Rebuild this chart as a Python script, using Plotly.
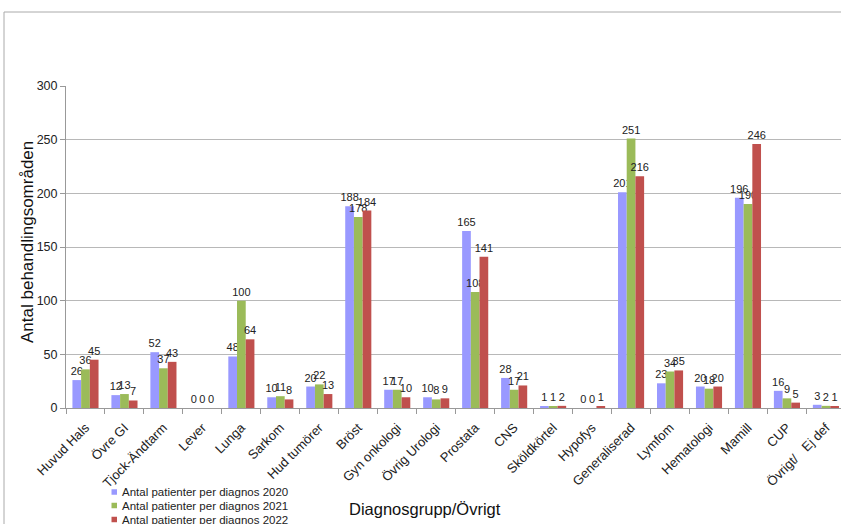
import plotly.graph_objects as go

categories = ["Huvud Hals", "Övre GI", "Tjock-Ändtarm", "Lever", "Lunga", "Sarkom",
              "Hud tumörer", "Bröst", "Gyn onkologi", "Övrig Urologi", "Prostata", "CNS",
              "Sköldkörtel", "Hypofys", "Generaliserad", "Lymfom", "Hematologi", "Mamill",
              "CUP", "Övrigt/   Ej def"]
v2020 = [26, 12, 52, 0, 48, 10, 20, 188, 17, 10, 165, 28, 1, 0, 201, 23, 20, 196, 16, 3]
v2021 = [36, 13, 37, 0, 100, 11, 22, 178, 17, 8, 108, 17, 1, 0, 251, 34, 18, 190, 9, 2]
v2022 = [45, 7, 43, 0, 64, 8, 13, 184, 10, 9, 141, 21, 2, 1, 216, 35, 20, 246, 5, 1]
series_names = ["Antal patienter per diagnos 2020", "Antal patienter per diagnos 2021",
                "Antal patienter per diagnos 2022"]
colors = ["#9999FF", "#9BBB59", "#C0504D"]
y_ticks = [0, 50, 100, 150, 200, 250, 300]
x_title = "Diagnosgrupp/Övrigt"
y_title = "Antal behandlingsområden"

font = "Liberation Sans, Arial, sans-serif"
fig = go.Figure()
for name, vals, col in zip(series_names, [v2020, v2021, v2022], colors):
    fig.add_trace(go.Bar(
        x=categories, y=vals, name=name,
        marker=dict(color=col, line=dict(width=0)),
        text=[str(v) for v in vals], textposition="outside",
        constraintext="none", cliponaxis=False,
        textfont=dict(family=font, size=11, color="#222222"),
    ))

W, H = 841, 524
L, R, T, B = 66, 0, 86, 116
pw, ph = W - L - R, H - T - B
y0px = T + ph  # pixel row of the x axis


def px(xp):
    return (xp - L) / pw


def py(yp):
    return (y0px - yp) / ph


shapes = [dict(type="rect", xref="paper", yref="paper",
               x0=px(4), x1=1.05, y0=-0.6, y1=py(12),
               line=dict(color="#AAAAAA", width=1), layer="below")]
annotations = [
    dict(text=x_title, xref="paper", yref="paper", x=px(425), y=py(509),
         xanchor="center", yanchor="middle", showarrow=False,
         font=dict(family=font, size=16.5, color="#111111")),
    dict(text=y_title, xref="paper", yref="paper", x=px(27), y=py(242),
         xanchor="center", yanchor="middle", showarrow=False, textangle=-90,
         font=dict(family=font, size=17, color="#111111")),
]
rows = [492, 505.5, 519.5]
for name, col, ry in zip(series_names, colors, rows):
    shapes.append(dict(type="rect", xref="paper", yref="paper",
                       x0=px(111.5), x1=px(117), y0=py(ry + 2.75), y1=py(ry - 2.75),
                       fillcolor=col, line=dict(width=0)))
    annotations.append(dict(text=name, xref="paper", yref="paper", x=px(120), y=py(ry),
                            xanchor="left", yanchor="middle", showarrow=False,
                            font=dict(family=font, size=11.5, color="#222222")))

fig.update_layout(
    width=W, height=H,
    margin=dict(l=L, r=R, t=T, b=B, autoexpand=False),
    barmode="group", bargap=0.33, bargroupgap=0,
    plot_bgcolor="white", paper_bgcolor="white",
    font=dict(family=font, size=12, color="#222222"),
    showlegend=False,
    xaxis=dict(
        range=[-0.5, -0.5 + pw / 38.97], tickangle=-45,
        tickfont=dict(family=font, size=13, color="#222222"),
        ticks="outside", tickson="boundaries", ticklen=5, tickcolor="#999999",
        ticklabelstandoff=6,
        showline=True, linecolor="#999999", linewidth=1,
        automargin=False,
    ),
    yaxis=dict(
        range=[0, 300], tickvals=y_ticks,
        tickfont=dict(family=font, size=12.5, color="#222222"),
        ticks="outside", ticklen=5, tickcolor="#999999",
        showline=True, linecolor="#999999", linewidth=1,
        showgrid=True, gridcolor="#B8B8B8", gridwidth=1,
        zeroline=False,
        automargin=False,
    ),
    shapes=shapes,
    annotations=annotations,
)
fig.write_html("out.html")
